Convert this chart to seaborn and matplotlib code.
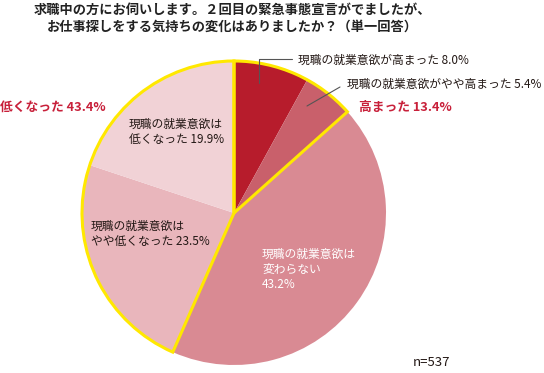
import numpy as np
import pandas as pd
import matplotlib.pyplot as plt
import seaborn as sns
from matplotlib.patches import Wedge

# data
labels = ["現職の就業意欲が高まった", "現職の就業意欲がやや高まった", "現職の就業意欲は変わらない",
          "現職の就業意欲はやや低くなった", "現職の就業意欲は低くなった"]
values = [8.0, 5.4, 43.2, 23.5, 19.9]
colors = ["#B71C2C", "#C9606B", "#D98A93", "#E9B6BC", "#F1D2D6"]
group_high = 13.4
group_low = 43.4
n_total = 537

df = pd.DataFrame({"label": labels, "value": values, "color": colors})

sns.set_theme(style="white")
plt.rcParams['font.family'] = ['Noto Sans CJK JP', 'DejaVu Sans']

fig = plt.figure(figsize=(5.44, 3.73), dpi=100)
W, H = 544, 373
cx, cy, r = 234, 213, 152
ax = fig.add_axes([(cx - r) / W, (H - cy - r) / H, 2 * r / W, 2 * r / H])

ax.pie(df["value"], colors=df["color"], startangle=90, counterclock=False,
       radius=1, wedgeprops=dict(linewidth=0))
ax.set_xlim(-1, 1)
ax.set_ylim(-1, 1)
ax.set_aspect("equal")
ax.axis("off")

# yellow outlines around the "high" and "low" groups
cum = np.cumsum([0] + values)
ang = 90 - cum / 100 * 360
yellow = "#FFE800"
high_w = Wedge((0, 0), 1, ang[2], ang[0], fill=False, edgecolor=yellow, lw=2.2, clip_on=False)
low_w = Wedge((0, 0), 1, ang[5], ang[3], fill=False, edgecolor=yellow, lw=2.2, clip_on=False)
ax.add_patch(high_w)
ax.add_patch(low_w)

def px(x, y):
    return ((x) / W, 1 - (y) / H)

# title
fig.text(*px(232, 10), "求職中の方にお伺いします。２回目の緊急事態宣言がでましたが、",
         ha="center", va="center", fontsize=9.5, fontweight="bold", color="#222222")
fig.text(*px(232, 27), "お仕事探しをする気持ちの変化はありましたか？（単一回答）",
         ha="center", va="center", fontsize=9.5, fontweight="bold", color="#222222")

lab_kw = dict(fontsize=8.5, color="#231815", va="center", ha="left")
fig.text(*px(298, 60), f"{labels[0]} {values[0]}%", **lab_kw)
fig.text(*px(347, 84), f"{labels[1]} {values[1]}%", **lab_kw)
fig.text(*px(129, 132), f"現職の就業意欲は\n低くなった {values[4]}%", linespacing=1.25, **lab_kw)
fig.text(*px(91, 234), f"現職の就業意欲は\nやや低くなった {values[3]}%", linespacing=1.25, **lab_kw)
fig.text(*px(262, 269), f"現職の就業意欲は\n変わらない\n{values[2]}%", fontsize=8.5,
         color="white", va="center", ha="left", linespacing=1.2)

red = "#C8203A"
fig.text(*px(359, 107), f"高まった {group_high}%", fontsize=9.2, fontweight="bold", color=red, va="center")
fig.text(*px(0, 107), f"低くなった {group_low}%", fontsize=9.2, fontweight="bold", color=red, va="center")
fig.text(*px(413, 363), f"n={n_total}", fontsize=9.5, color="#231815", va="center")

# leader lines
line_kw = dict(color="#555555", lw=0.8, transform=fig.transFigure)
fig.add_artist(plt.Line2D([259 / W, 259 / W, 292 / W], [1 - 83 / H, 1 - 59 / H, 1 - 59 / H], **line_kw))
fig.add_artist(plt.Line2D([307 / W, 340 / W], [1 - 106 / H, 1 - 87 / H], **line_kw))

plt.savefig("out.png", dpi=100)
